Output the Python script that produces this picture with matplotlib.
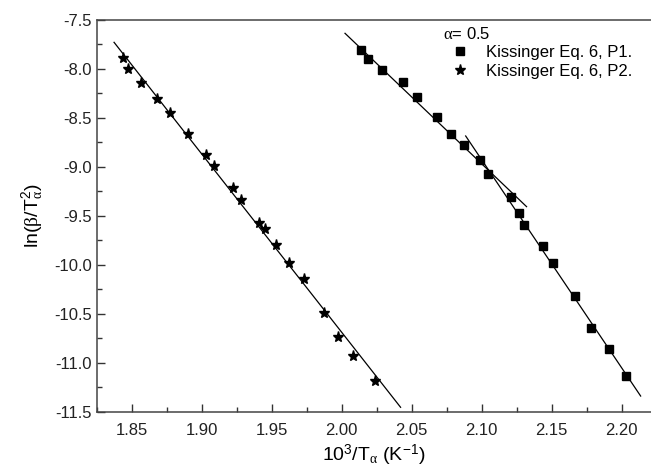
import numpy as np
import matplotlib
matplotlib.use('Agg')
import matplotlib.pyplot as plt
from matplotlib.ticker import MultipleLocator, FormatStrFormatter

# Kissinger Eq. 6, P1 (squares)
x_p1 = [2.0136, 2.0186, 2.0286, 2.0436, 2.0536, 2.0679, 2.0781, 2.0876, 2.0988, 2.1047,
        2.1207, 2.1264, 2.1302, 2.1440, 2.1507, 2.1666, 2.1781, 2.1911, 2.2031]
y_p1 = [-7.81, -7.90, -8.01, -8.13, -8.29, -8.49, -8.66, -8.78, -8.93, -9.07,
        -9.31, -9.47, -9.59, -9.81, -9.98, -10.32, -10.65, -10.86, -11.14]

# Kissinger Eq. 6, P2 (stars)
x_p2 = [1.8436, 1.8476, 1.8564, 1.8683, 1.8774, 1.8900, 1.9031, 1.9088, 1.9226, 1.9281,
        1.9407, 1.9452, 1.9529, 1.9626, 1.9733, 1.9874, 1.9976, 2.0083, 2.0238]
y_p2 = [-7.89, -8.00, -8.14, -8.31, -8.45, -8.66, -8.88, -8.99, -9.22, -9.34,
        -9.57, -9.64, -9.80, -9.98, -10.15, -10.49, -10.74, -10.93, -11.19]

# fitted lines (end points): P1 low-T part, P1 high-T part, P2
fit_p1a_x = [2.0024, 2.1321]
fit_p1a_y = [-7.636, -9.407]
fit_p1b_x = [2.0886, 2.2136]
fit_p1b_y = [-8.685, -11.342]
fit_p2_x = [1.8374, 2.0421]
fit_p2_y = [-7.728, -11.457]

plt.rcParams['font.family'] = ['Liberation Sans', 'DejaVu Sans']
plt.rcParams['mathtext.fontset'] = 'custom'
plt.rcParams['mathtext.rm'] = 'Liberation Sans'
plt.rcParams['mathtext.it'] = 'Liberation Serif'
plt.rcParams['mathtext.bf'] = 'Liberation Sans:bold'
plt.rcParams['axes.unicode_minus'] = False

fig = plt.figure(figsize=(6.51, 4.71), dpi=100)
ax = fig.add_axes([96.7 / 651, 1 - 411.5 / 471, 1 - 96.7 / 651, 391.5 / 471])

ax.plot(fit_p1a_x, fit_p1a_y, color='black', lw=0.9)
ax.plot(fit_p1b_x, fit_p1b_y, color='black', lw=0.9)
ax.plot(fit_p2_x, fit_p2_y, color='black', lw=0.9)
ax.plot(x_p1, y_p1, 's', color='black', ms=5.5, label='Kissinger Eq. 6, P1.')
ax.plot(x_p2, y_p2, '*', color='black', ms=8, label='Kissinger Eq. 6, P2.')

ax.set_xlim(1.825, 2.221)
ax.set_ylim(-11.5, -7.5)
ax.xaxis.set_major_locator(MultipleLocator(0.05))
ax.xaxis.set_minor_locator(MultipleLocator(0.025))
ax.yaxis.set_major_locator(MultipleLocator(0.5))
ax.yaxis.set_minor_locator(MultipleLocator(0.25))
ax.xaxis.set_major_formatter(FormatStrFormatter('%.2f'))
ax.yaxis.set_major_formatter(FormatStrFormatter('%.1f'))

ax.tick_params(which='both', direction='in', color='#333333', width=1,
               labelsize=12, labelcolor='#222222', top=False, right=False)
ax.tick_params(which='major', length=6)
ax.tick_params(which='minor', length=3.5)
ax.tick_params(axis='x', pad=8)
for s in ['left', 'bottom', 'top']:
    ax.spines[s].set_color('#444444')
    ax.spines[s].set_linewidth(1.1)
ax.spines['right'].set_visible(False)

ax.set_xlabel(r'10$^{\mathrm{3}}$/T$_{\alpha}$ (K$^{\mathrm{-1}}$)', fontsize=14, labelpad=4)
ax.set_ylabel(r'ln($\beta$/T$_{\alpha}^{\mathrm{2}}$)', fontsize=14, labelpad=6)

leg = ax.legend(title=r'$\alpha$= 0.5', loc='upper left', bbox_to_anchor=(0.625, 0.985),
                frameon=False, alignment='left', borderpad=0, handlelength=2,
                handletextpad=0.6, labelspacing=0.2, fontsize=12, title_fontsize=12,
                borderaxespad=0)

fig.savefig('out.png', dpi=100)
